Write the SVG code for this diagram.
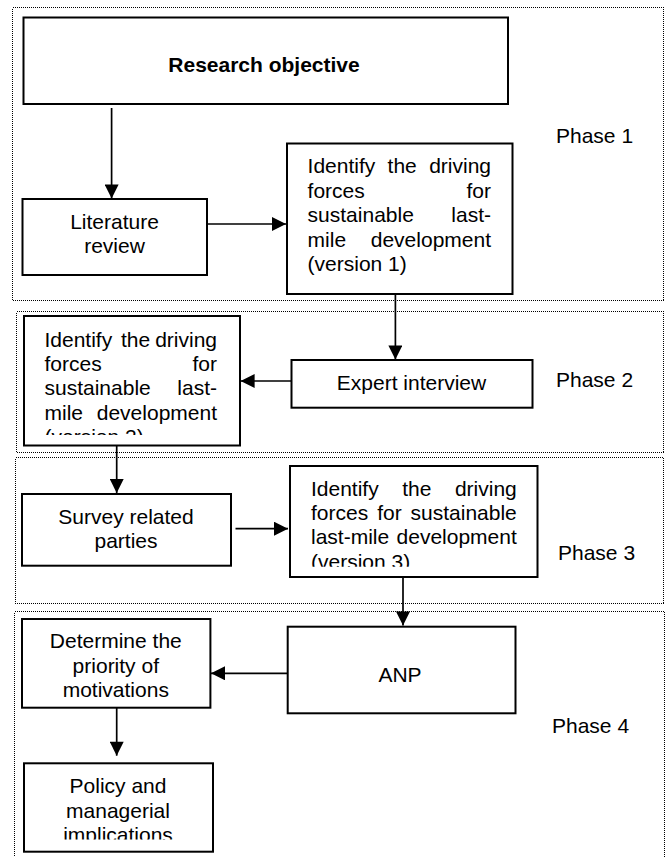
<svg xmlns="http://www.w3.org/2000/svg" width="665" height="857" viewBox="0 0 665 857">
<style>
.phase{fill:none;stroke:#000;stroke-width:1;stroke-dasharray:1 1;shape-rendering:crispEdges}
.box{fill:#fff;stroke:#000;stroke-width:2}
.t{font-family:"Liberation Sans",Arial,sans-serif;font-size:21px;fill:#000}
.c{text-anchor:middle}
.e{text-anchor:end}
.b{font-weight:bold}
.conn line{stroke:#000;stroke-width:1.7}
</style>
<defs>
<marker id="ah" viewBox="0 0 10 10" refX="10" refY="5" markerWidth="15" markerHeight="14" markerUnits="userSpaceOnUse" orient="auto">
<path d="M0,0 L10,5 L0,10 z" fill="#000"/>
</marker>
<clipPath id="clip2"><rect x="24" y="316" width="216" height="119"/></clipPath>
<clipPath id="clip3"><rect x="290" y="466" width="248" height="100.7"/></clipPath>
<clipPath id="clip4"><rect x="24" y="763" width="189" height="76.5"/></clipPath>
</defs>

<g id="phases">
<rect id="phase1" class="phase" x="12.5" y="7.5" width="651" height="293"/>
<rect id="phase2" class="phase" x="16.5" y="311.5" width="647" height="141"/>
<rect id="phase3" class="phase" x="15.5" y="457.5" width="648" height="146"/>
<rect id="phase4" class="phase" x="14.5" y="611.5" width="650" height="260"/>
<text class="t" x="556" y="143">Phase 1</text>
<text class="t" x="556" y="387">Phase 2</text>
<text class="t" x="558" y="560">Phase 3</text>
<text class="t" x="552" y="733">Phase 4</text>
</g>

<g id="research-objective">
<rect class="box" x="23.5" y="17.5" width="484.5" height="86.5"/>
<text class="t c b" x="264" y="72">Research objective</text>
</g>

<g id="literature-review">
<rect class="box" x="22.5" y="199" width="184.5" height="76"/>
<text class="t c" x="114.5" y="229">Literature</text>
<text class="t c" x="114.5" y="253">review</text>
</g>

<g id="driving-forces-v1">
<rect class="box" x="287" y="143.5" width="225.5" height="150.5"/>
<text class="t" x="307.6" y="173">Identify</text>
<text class="t" x="387.6" y="173">the</text>
<text class="t e" x="491" y="173">driving</text>
<text class="t" x="307.6" y="197.5">forces</text>
<text class="t e" x="491" y="197.5">for</text>
<text class="t" x="307.6" y="222">sustainable</text>
<text class="t e" x="491" y="222">last-</text>
<text class="t" x="307.6" y="246.5">mile</text>
<text class="t e" x="491" y="246.5">development</text>
<text class="t" x="307.6" y="271">(version 1)</text>
</g>

<g id="expert-interview">
<rect class="box" x="291.5" y="360" width="241" height="47.7"/>
<text class="t c" x="411.5" y="389.5">Expert interview</text>
</g>

<g id="driving-forces-v2">
<rect class="box" x="24" y="316" width="216" height="129.5"/>
<g clip-path="url(#clip2)">
<text class="t" x="44.5" y="346.5">Identify</text>
<text class="t" x="121" y="346.5">the</text>
<text class="t e" x="217" y="346.5">driving</text>
<text class="t" x="44.5" y="371">forces</text>
<text class="t e" x="217" y="371">for</text>
<text class="t" x="44.5" y="395.3">sustainable</text>
<text class="t e" x="217" y="395.3">last-</text>
<text class="t" x="44.5" y="419.5">mile</text>
<text class="t e" x="217" y="419.5">development</text>
<text class="t" x="44.5" y="444">(version 2)</text>
</g>
</g>

<g id="survey">
<rect class="box" x="22" y="494" width="209" height="71.7"/>
<text class="t c" x="126" y="524">Survey related</text>
<text class="t c" x="126" y="548">parties</text>
</g>

<g id="driving-forces-v3">
<rect class="box" x="290" y="466" width="247.5" height="111"/>
<g clip-path="url(#clip3)">
<text class="t" x="311" y="495.7">Identify</text>
<text class="t" x="402.2" y="495.7">the</text>
<text class="t e" x="516.8" y="495.7">driving</text>
<text class="t" x="311" y="520">forces</text>
<text class="t" x="377.2" y="520">for</text>
<text class="t e" x="516.8" y="520">sustainable</text>
<text class="t" x="311" y="544.3">last-mile</text>
<text class="t e" x="516.8" y="544.3">development</text>
<text class="t" x="311" y="568.7">(version 3)</text>
</g>
</g>

<g id="anp">
<rect class="box" x="287.7" y="626.7" width="227.8" height="86.6"/>
<text class="t c" x="400" y="682">ANP</text>
</g>

<g id="determine-priority">
<rect class="box" x="22" y="619" width="188.4" height="88.7"/>
<text class="t c" x="115.8" y="648.3">Determine the</text>
<text class="t c" x="115.8" y="672.6">priority of</text>
<text class="t c" x="115.8" y="696.8">motivations</text>
</g>

<g id="policy-implications">
<rect class="box" x="24" y="763.3" width="189" height="88.4"/>
<g clip-path="url(#clip4)">
<text class="t c" x="118" y="793.3">Policy and</text>
<text class="t c" x="118" y="817.6">managerial</text>
<text class="t c" x="118" y="842">implications</text>
</g>
</g>

<g id="connectors" class="conn">
<line x1="111.6" y1="108" x2="111.6" y2="198.5" marker-end="url(#ah)"/>
<line x1="208" y1="224" x2="286" y2="224" marker-end="url(#ah)"/>
<line x1="395.4" y1="294" x2="395.4" y2="359.5" marker-end="url(#ah)"/>
<line x1="291.5" y1="381" x2="240.6" y2="381" marker-end="url(#ah)"/>
<line x1="116.7" y1="445.5" x2="116.7" y2="493" marker-end="url(#ah)"/>
<line x1="235.5" y1="528.7" x2="288" y2="528.7" marker-end="url(#ah)"/>
<line x1="403" y1="577" x2="403" y2="625.5" marker-end="url(#ah)"/>
<line x1="287.7" y1="673.3" x2="211" y2="673.3" marker-end="url(#ah)"/>
<line x1="116.7" y1="707.7" x2="116.7" y2="755.7" marker-end="url(#ah)"/>
</g>
</svg>
